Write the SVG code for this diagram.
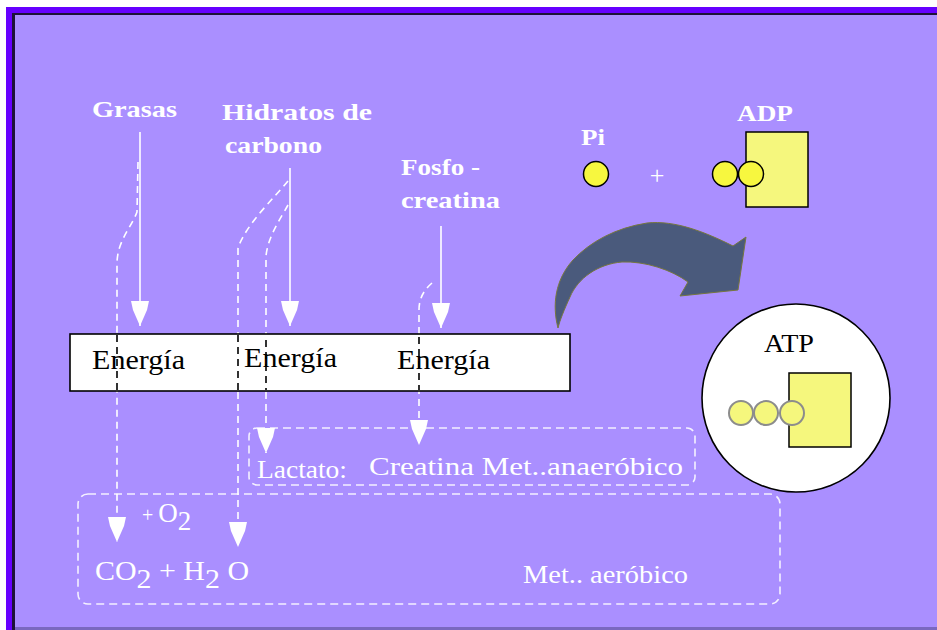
<svg xmlns="http://www.w3.org/2000/svg" width="937" height="630" viewBox="0 0 937 630">
<defs>
<style>
.lbl{font-family:"Liberation Serif",serif;font-weight:bold;fill:#fff;font-size:23px}
.wt{font-family:"Liberation Serif",serif;fill:#fff}
.blk{font-family:"Liberation Serif",serif;fill:#000;font-size:28px}
.solid{stroke:#fff;stroke-width:1.6;fill:none}
.dash{stroke:#fff;stroke-width:1.6;stroke-dasharray:7 5;fill:none}
.dashk{stroke:#000;stroke-width:1.6;stroke-dasharray:7 5;fill:none}
.zone{stroke:#f4f0ff;stroke-width:1.6;stroke-dasharray:8 5;fill:none}
.pc{fill:#F7F73F;stroke:#000;stroke-width:1.5}
.atpc{fill:#F5F77D;stroke:#8c8c8c;stroke-width:2}
.base{fill:#F5F77D;stroke:#000;stroke-width:1.5}
</style>
<marker id="ah" viewBox="0 0 25 18" refX="25" refY="9" markerWidth="25" markerHeight="18" markerUnits="userSpaceOnUse" orient="auto">
<path d="M0,0 L9,2 L25,9 L9,16 L0,18 Z" fill="#fff"/>
</marker>
</defs>

<g id="background">
<rect x="0" y="0" width="937" height="630" fill="#fff"/>
<rect x="6" y="7" width="931" height="623" fill="#6600FF"/>
<rect x="12" y="13" width="925" height="617" fill="#1c1238"/>
<rect x="15" y="15" width="922" height="612" fill="#AA8FFF"/>
<rect x="15" y="627" width="922" height="3" fill="#7a68c0"/>
</g>

<g id="zones">
<rect id="anaerobic-zone" x="249" y="428" width="446" height="57" rx="8" class="zone"/>
<rect id="aerobic-zone" x="78" y="494" width="702" height="110" rx="10" class="zone"/>
</g>

<g id="connectors">
<line class="solid" x1="140" y1="132" x2="140" y2="326" marker-end="url(#ah)"/>
<line class="solid" x1="290" y1="168" x2="290" y2="326" marker-end="url(#ah)"/>
<line class="solid" x1="441" y1="226" x2="441" y2="328" marker-end="url(#ah)"/>
<path class="dash" d="M138,162 L137,212 C131,228 118,240 117,262 L117,542" marker-end="url(#ah)"/>
<path class="dash" d="M288,181 C276,196 246,224 238,248 L238,547" marker-end="url(#ah)"/>
<path class="dash" d="M288,205 C281,218 268,236 266,256 L266,453" marker-end="url(#ah)"/>
<path class="dash" d="M432,283 C424,290 419,298 419,310 L419,445" marker-end="url(#ah)"/>
<path id="big-arrow" d="M558,328 C552,305 555,280 573,260 C590,242 615,228 647,223 C675,220 705,232 733,246 L746,237 L738,290 L680,296 L688,282 C672,270 645,261 622,262 C598,264 578,278 570,297 C564,310 560,320 558,328 Z" fill="#4A5A7C" stroke="#77773f" stroke-width="1"/>
</g>

<g id="energy-box">
<rect x="70" y="334" width="500" height="57" fill="#fff" stroke="#000" stroke-width="1.6"/>
<line class="dashk" x1="117" y1="335" x2="117" y2="390"/>
<line class="dashk" x1="238" y1="335" x2="238" y2="390"/>
<line class="dashk" x1="266" y1="340" x2="266" y2="390"/>
<line class="dashk" x1="419" y1="337" x2="419" y2="390"/>
<text class="blk" x="92" y="369" textLength="93" lengthAdjust="spacingAndGlyphs">Energía</text>
<text class="blk" x="244" y="367" textLength="93" lengthAdjust="spacingAndGlyphs">Energía</text>
<text class="blk" x="397" y="369" textLength="93" lengthAdjust="spacingAndGlyphs">Energía</text>
</g>

<g id="grasas">
<text class="lbl" x="92" y="117" textLength="85" lengthAdjust="spacingAndGlyphs">Grasas</text>
</g>
<g id="hidratos">
<text class="lbl" x="222" y="120" textLength="150" lengthAdjust="spacingAndGlyphs">Hidratos  de</text>
<text class="lbl" x="225" y="153" textLength="97" lengthAdjust="spacingAndGlyphs">carbono</text>
</g>
<g id="fosfocreatina">
<text class="lbl" x="401" y="175" textLength="79" lengthAdjust="spacingAndGlyphs">Fosfo -</text>
<text class="lbl" x="401" y="208" textLength="99" lengthAdjust="spacingAndGlyphs">creatina</text>
</g>

<g id="pi">
<text class="lbl" x="581" y="145" textLength="24" lengthAdjust="spacingAndGlyphs">Pi</text>
<circle class="pc" cx="596" cy="174" r="12.5"/>
</g>
<g id="plus">
<text class="wt" x="657" y="184" text-anchor="middle" font-size="26">+</text>
</g>
<g id="adp">
<text class="lbl" x="737" y="121" textLength="56" lengthAdjust="spacingAndGlyphs">ADP</text>
<rect class="base" x="746" y="132" width="62" height="75"/>
<circle class="pc" cx="725" cy="174" r="12.5"/>
<circle class="pc" cx="751" cy="174" r="12.5"/>
</g>

<g id="atp">
<circle cx="796" cy="398" r="94" fill="#fff" stroke="#000" stroke-width="1.6"/>
<text x="764" y="352" font-family="Liberation Serif, serif" font-size="26" fill="#000" textLength="50" lengthAdjust="spacingAndGlyphs">ATP</text>
<rect class="base" x="789" y="373" width="62" height="74"/>
<circle class="atpc" cx="741" cy="413" r="12"/>
<circle class="atpc" cx="766" cy="413" r="12"/>
<circle class="atpc" cx="792" cy="413" r="12"/>
</g>

<g id="anaerobic-labels">
<text class="wt" x="257" y="478" font-size="26" textLength="90" lengthAdjust="spacingAndGlyphs">Lactato:</text>
<text class="wt" x="369" y="475" font-size="26" textLength="314" lengthAdjust="spacingAndGlyphs">Creatina Met..anaeróbico</text>
</g>

<g id="aerobic-labels">
<text class="wt" x="142" y="522" font-size="20">+ <tspan font-size="27">O</tspan><tspan font-size="27" dy="8">2</tspan></text>
<text class="wt" x="95" y="580" font-size="27" textLength="154" lengthAdjust="spacingAndGlyphs">CO<tspan dy="8">2</tspan><tspan dy="-8"> + H</tspan><tspan dy="8">2</tspan><tspan dy="-8"> O</tspan></text>
<text class="wt" x="523" y="583" font-size="25" textLength="165" lengthAdjust="spacingAndGlyphs">Met.. aeróbico</text>
</g>
</svg>
